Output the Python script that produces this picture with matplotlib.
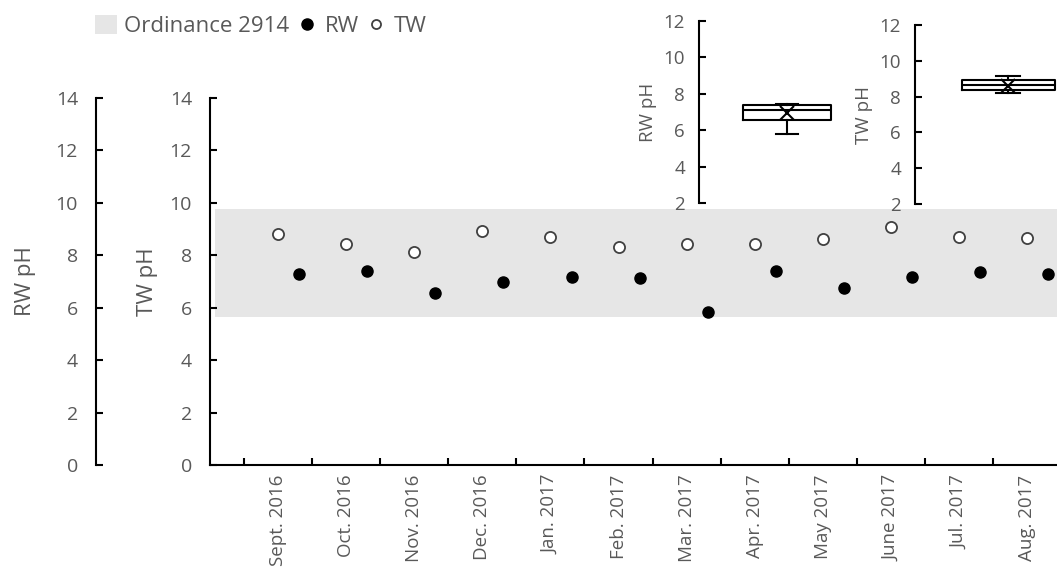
import matplotlib
matplotlib.use("Agg")
import matplotlib.pyplot as plt
from matplotlib.patches import Patch
from matplotlib.lines import Line2D
import numpy as np

plt.rcParams['font.family'] = ['Open Sans', 'DejaVu Sans']

# monthly samples
months = ["Sept. 2016", "Oct. 2016", "Nov. 2016", "Dec. 2016", "Jan. 2017", "Feb. 2017",
          "Mar. 2017", "Apr. 2017", "May 2017", "June 2017", "Jul. 2017", "Aug. 2017"]
tw_ph = [8.83, 8.44, 8.14, 8.94, 8.71, 8.33, 8.44, 8.44, 8.64, 9.09, 8.71, 8.67]
rw_ph = [7.30, 7.41, 6.57, 6.99, 7.18, 7.15, 5.85, 7.41, 6.76, 7.18, 7.37, 7.30]

# ordinance 2914 range
ord_low, ord_high = 5.65, 9.75

# box plot stats: whislo, q1, med, q3, whishi, mean
rw_box = [5.78, 6.55, 7.10, 7.37, 7.42, 6.93]
tw_box = [8.20, 8.37, 8.65, 8.93, 9.15, 8.60]

TXT = '#595959'
W, H = 1057, 568

fig = plt.figure(figsize=(W / 100, H / 100), dpi=100)


def fx(px):
    return px / W


def fy(px):
    return 1 - px / H


ax = fig.add_axes([fx(210), fy(465), fx(1057 - 210), (465 - 98) / H])
ax.set_facecolor('none')
x = np.arange(len(months))

ax.fill_between([-0.93, 12], ord_low, ord_high, color='#e6e6e6', lw=0, zorder=0)
ax.plot(x, tw_ph, 'o', ms=8, mfc='white', mec='#404040', mew=1.3, zorder=3)

ax.set_xlim(-1.0, 11.44)
ax.set_ylim(0, 14)
ax.set_yticks(range(0, 15, 2))
for s in ['top', 'right']:
    ax.spines[s].set_visible(False)
for s in ['left', 'bottom']:
    ax.spines[s].set_linewidth(1.5)
ax.tick_params(axis='y', direction='in', length=5, width=1.5, pad=13, labelsize=14, labelcolor=TXT)
ax.set_xticks(x, months, rotation=90)
ax.tick_params(axis='x', which='major', length=0, pad=7, labelsize=13.5, labelcolor=TXT)
ax.set_xticks(np.arange(-0.5, 11.5, 1), minor=True)
ax.tick_params(axis='x', which='minor', direction='in', length=5, width=1.5)
ax.set_ylabel('TW pH', fontsize=16, color=TXT, labelpad=8)

# RW axis on the far left
ax2 = ax.twinx()
ax2.set_ylim(0, 14)
ax2.set_yticks(range(0, 15, 2))
ax2.spines['right'].set_visible(False)
ax2.spines['top'].set_visible(False)
ax2.spines['bottom'].set_visible(False)
ax2.spines['left'].set_visible(True)
ax2.spines['left'].set_position(('outward', (210 - 96) * 0.72))
ax2.spines['left'].set_linewidth(1.5)
ax2.yaxis.set_ticks_position('left')
ax2.yaxis.set_label_position('left')
ax2.tick_params(axis='y', direction='in', length=5, width=1.5, pad=13, labelsize=14, labelcolor=TXT)
ax2.set_ylabel('RW pH', fontsize=16, color=TXT, labelpad=14)
ax2.plot(x + 0.31, rw_ph, 'o', ms=8, color='black', zorder=3)


def inset(left, top_px, bottom_px, right, stats, label):
    ia = fig.add_axes([fx(left), fy(bottom_px), fx(right - left), (bottom_px - top_px) / H])
    ia.set_facecolor('none')
    lo, q1, med, q3, hi, mean = stats
    ia.bxp([dict(whislo=lo, q1=q1, med=med, q3=q3, whishi=hi, mean=mean, fliers=[])],
           positions=[1], widths=[1.0], capwidths=[0.25], showmeans=True,
           boxprops=dict(lw=1.5, color='black'), whiskerprops=dict(lw=1.5, color='black'),
           capprops=dict(lw=1.5, color='black'), medianprops=dict(lw=1.5, color='black'),
           meanprops=dict(marker='x', ms=10, mec='black', mew=1.5))
    ia.set_xlim(0, 2)
    ia.set_ylim(2, 12)
    ia.set_yticks(range(2, 13, 2))
    ia.set_xticks([])
    for s in ['top', 'right', 'bottom']:
        ia.spines[s].set_visible(False)
    ia.spines['left'].set_linewidth(1.5)
    ia.tick_params(axis='y', direction='in', length=5, width=1.5, pad=10, labelsize=13.5, labelcolor=TXT)
    ia.set_ylabel(label, fontsize=13.5, color=TXT, labelpad=5)
    return ia


inset(699, 21, 203, 875, rw_box, 'RW pH')
inset(915, 25, 204, 1101, tw_box, 'TW pH')

handles = [Patch(facecolor='#e6e6e6', edgecolor='none'),
           Line2D([], [], ls='none', marker='o', ms=8, color='black'),
           Line2D([], [], ls='none', marker='o', ms=6.5, mfc='white', mec='#404040', mew=1.3)]
fig.legend(handles, ['Ordinance 2914', 'RW', 'TW'], ncol=3, frameon=False,
           loc='center left', bbox_to_anchor=(fx(86), fy(26)), fontsize=16,
           handlelength=1.0, handleheight=0.9, handletextpad=0.3, columnspacing=0.3,
           labelcolor=TXT, borderaxespad=0)

plt.savefig('out.png', dpi=100)
